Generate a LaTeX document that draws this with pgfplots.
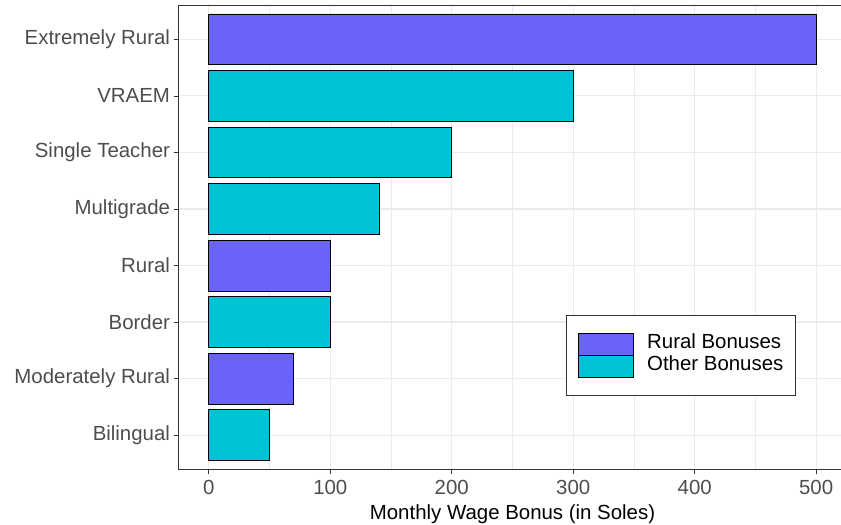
\documentclass[border=0pt]{standalone}
\usepackage{fontspec}
\setmainfont{Liberation Sans}
\usepackage{pgfplots}
\pgfplotsset{compat=1.18}
\definecolor{rural}{RGB}{106,99,250}
\definecolor{other}{RGB}{0,194,214}
\definecolor{gridc}{RGB}{235,235,235}
\definecolor{gray30}{RGB}{77,77,77}
\definecolor{gray20}{RGB}{51,51,51}
\begin{document}
\begin{tikzpicture}[x=1bp,y=1bp]
\useasboundingbox (0,0) rectangle (841,525);
\begin{axis}[
 at={(178.5bp,56bp)}, anchor=south west,
 scale only axis, width=668bp, height=463.5bp,
 xmin=-25, xmax=525, ymin=0.4, ymax=8.6,
 xbar, bar width=0.9, bar shift=0pt,
 ytick={1,...,8},
 yticklabels={Bilingual, Moderately Rural, Border, Rural, Multigrade, Single Teacher, VRAEM, Extremely Rural},
 xtick={0,100,...,500},
 minor xtick={50,150,...,450},
 xmajorgrids, ymajorgrids, xminorgrids,
 major grid style={gridc, line width=1.1bp},
 minor grid style={gridc, line width=0.55bp},
 axis line style={gray20, line width=0.8bp},
 tick align=outside, major tick length=5bp, minor tick length=0pt,
 tick style={gray20, line width=0.8bp},
 tick pos=left,
 ticklabel style={font=\fontsize{20.5}{24}\selectfont, text=gray30},
 xticklabel style={yshift=-3bp},
 /pgf/number format/assume math mode=true,
 xlabel={Monthly Wage Bonus (in Soles)},
 xlabel style={font=\fontsize{20.5}{24}\selectfont, text=black, yshift=-3bp},
 legend cell align=left,
 legend style={at={(0.580,0.332)}, anchor=north west, draw=gray20, line width=0.8bp,
   inner xsep=12bp, inner ysep=17.5bp, font=\fontsize{20.5}{24}\selectfont,
   row sep=0pt,
   nodes={inner sep=0pt, text height=15bp, text depth=6.5bp},
   /tikz/every odd column/.style={column sep=13bp}},
 legend image code/.code={\draw[#1] (0bp,-10.75bp) rectangle (55bp,10.75bp);},
]
\addplot[fill=rural, draw=black, line width=0.8bp] coordinates {(500,8) (100,4) (70,2)};
\addlegendentry{Rural Bonuses}
\addplot[fill=other, draw=black, line width=0.8bp] coordinates {(300,7) (200,6) (140,5) (100,3) (50,1)};
\addlegendentry{Other Bonuses}
\end{axis}
\end{tikzpicture}
\end{document}
